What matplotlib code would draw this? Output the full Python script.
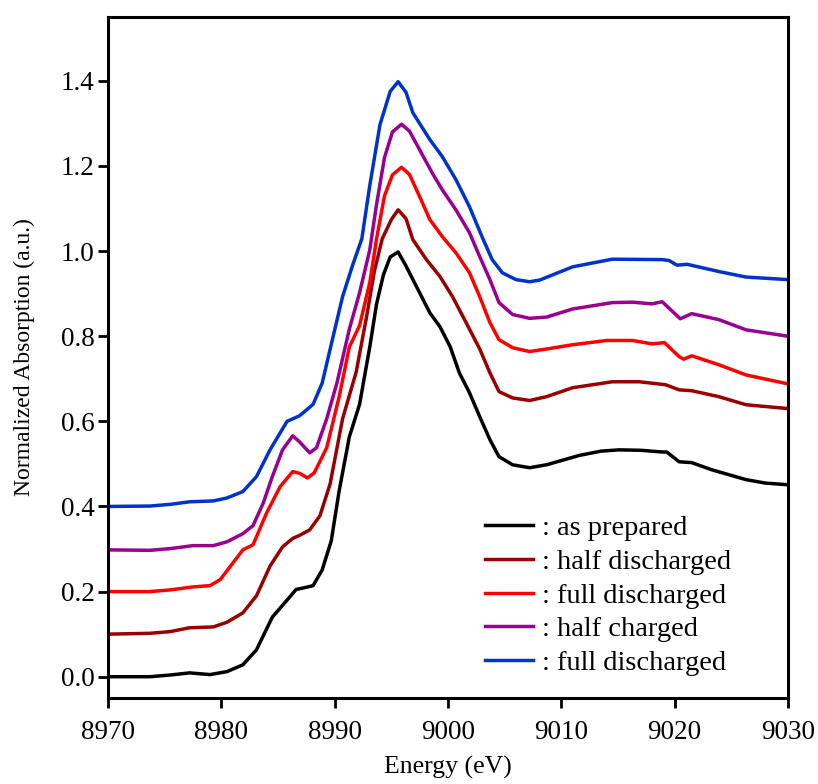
"""
plot.py
XANES spectra at several states of charge
"""
import numpy as np
import matplotlib
matplotlib.use("Agg")
import matplotlib.pyplot as plt

e_prepared = [8970.0, 8973.7, 8975.5, 8977.2, 8979.0, 8980.5, 8981.9, 8983.1, 8984.5,
              8985.8, 8986.6, 8987.3, 8988.1, 8988.9, 8989.7, 8990.4, 8991.3, 8992.2,
              8993.1, 8993.7, 8994.3, 8994.9, 8995.6, 8996.3, 8997.5, 8998.4, 8999.3,
              9000.2, 9001.0, 9001.9, 9002.8, 9003.7, 9004.5, 9005.7, 9007.2, 9008.7,
              9011.6, 9013.5, 9015.1, 9017.0, 9018.9, 9019.3, 9020.4, 9021.5, 9023.3,
              9026.3, 9028.0, 9030.0]
a_prepared = [0.000, 0.000, 0.004, 0.009, 0.005, 0.012, 0.028, 0.063, 0.140,
              0.180, 0.205, 0.209, 0.214, 0.251, 0.319, 0.437, 0.564, 0.640,
              0.775, 0.876, 0.944, 0.986, 0.998, 0.965, 0.902, 0.855, 0.822,
              0.775, 0.714, 0.667, 0.611, 0.557, 0.517, 0.498, 0.491, 0.498,
              0.520, 0.530, 0.533, 0.532, 0.528, 0.528, 0.505, 0.503, 0.486,
              0.463, 0.455, 0.451]

e_half_dis = [8970.0, 8973.7, 8975.5, 8977.2, 8979.3, 8980.5, 8981.9, 8983.1, 8984.3,
              8985.4, 8986.3, 8986.9, 8987.8, 8988.7, 8989.6, 8990.7, 8991.9, 8992.8,
              8993.5, 8994.2, 8995.0, 8995.6, 8996.3, 8996.9, 8998.1, 8999.3, 9000.4,
              9001.6, 9002.8, 9003.7, 9004.5, 9005.7, 9007.2, 9008.7, 9011.0, 9014.5,
              9016.9, 9019.2, 9020.4, 9021.5, 9023.9, 9026.3, 9030.0]
a_half_dis = [0.100, 0.102, 0.106, 0.115, 0.117, 0.128, 0.150, 0.190, 0.260,
              0.305, 0.325, 0.332, 0.345, 0.378, 0.453, 0.606, 0.716, 0.843,
              0.952, 1.029, 1.074, 1.097, 1.076, 1.027, 0.980, 0.940, 0.893,
              0.832, 0.770, 0.714, 0.670, 0.655, 0.649, 0.658, 0.679, 0.693,
              0.693, 0.686, 0.674, 0.672, 0.658, 0.639, 0.630]

e_full_dis = [8970.0, 8973.7, 8975.5, 8977.5, 8979.0, 8979.9, 8981.9, 8982.8, 8984.0,
              8985.2, 8986.3, 8986.9, 8987.6, 8988.2, 8989.3, 8990.4, 8991.3, 8992.2,
              8993.1, 8993.7, 8994.4, 8995.1, 8995.9, 8996.6, 8997.5, 8998.4, 8999.5,
              9000.7, 9001.9, 9002.8, 9003.7, 9004.5, 9005.7, 9007.2, 9008.7, 9011.0,
              9014.0, 9016.3, 9018.0, 9019.1, 9020.4, 9020.8, 9021.5, 9023.9, 9026.3,
              9030.0]
a_full_dis = [0.200, 0.200, 0.204, 0.211, 0.214, 0.228, 0.298, 0.310, 0.385,
              0.447, 0.482, 0.478, 0.467, 0.479, 0.538, 0.658, 0.775, 0.825,
              0.926, 1.029, 1.130, 1.179, 1.197, 1.180, 1.128, 1.074, 1.034,
              0.996, 0.949, 0.893, 0.832, 0.792, 0.773, 0.764, 0.770, 0.780,
              0.790, 0.790, 0.782, 0.785, 0.752, 0.746, 0.754, 0.733, 0.709,
              0.688]

e_half_chg = [8970.0, 8973.7, 8975.5, 8977.5, 8979.3, 8980.5, 8981.9, 8982.8, 8983.7,
              8984.5, 8985.4, 8986.3, 8986.9, 8987.8, 8988.4, 8989.3, 8990.2, 8991.3,
              8992.2, 8993.1, 8993.7, 8994.4, 8995.1, 8995.9, 8996.6, 8997.5, 8998.6,
              8999.5, 9000.7, 9001.9, 9002.8, 9003.7, 9004.5, 9005.7, 9007.2, 9008.7,
              9011.0, 9014.5, 9016.3, 9018.0, 9018.9, 9020.5, 9021.5, 9023.9, 9026.3,
              9030.0]
a_half_chg = [0.298, 0.297, 0.301, 0.308, 0.308, 0.317, 0.336, 0.355, 0.408,
              0.470, 0.533, 0.566, 0.552, 0.526, 0.538, 0.606, 0.690, 0.817,
              0.902, 1.003, 1.110, 1.220, 1.280, 1.298, 1.282, 1.238, 1.184,
              1.144, 1.097, 1.043, 0.987, 0.933, 0.879, 0.851, 0.842, 0.845,
              0.864, 0.879, 0.880, 0.876, 0.881, 0.841, 0.853, 0.839, 0.815,
              0.800]

e_full_chg = [8970.0, 8973.7, 8975.5, 8977.2, 8979.3, 8980.5, 8981.9, 8983.1, 8984.3,
              8985.8, 8986.9, 8988.1, 8988.9, 8989.8, 8990.7, 8991.6, 8992.4, 8993.1,
              8994.0, 8994.9, 8995.6, 8996.3, 8996.9, 8998.4, 8999.5, 9000.7, 9001.9,
              9003.0, 9003.9, 9004.8, 9006.0, 9007.2, 9008.1, 9011.0, 9014.5, 9018.9,
              9019.5, 9020.2, 9021.1, 9023.9, 9026.3, 9030.0]
a_full_chg = [0.400, 0.401, 0.405, 0.411, 0.413, 0.420, 0.435, 0.470, 0.533,
              0.600, 0.613, 0.640, 0.690, 0.792, 0.893, 0.968, 1.029, 1.154,
              1.297, 1.375, 1.398, 1.373, 1.325, 1.262, 1.222, 1.168, 1.104,
              1.034, 0.980, 0.949, 0.933, 0.928, 0.932, 0.963, 0.981, 0.980,
              0.978, 0.967, 0.969, 0.952, 0.939, 0.933]

labels = [": as prepared", ": half discharged", ": full discharged",
          ": half charged", ": full discharged"]
colors = ["#000000", "#990000", "#ff0000", "#99008f", "#0033cc"]

plt.rcParams['font.family'] = ['Liberation Serif', 'DejaVu Serif']

fig = plt.figure(figsize=(8.18, 7.84), dpi=100)
ax = fig.add_axes([0.132, 0.1097, 0.8313, 0.8686])

series = [(e_prepared, a_prepared), (e_half_dis, a_half_dis), (e_full_dis, a_full_dis),
          (e_half_chg, a_half_chg), (e_full_chg, a_full_chg)]
for (x, y), c, lab in zip(series, colors, labels):
    ax.plot(x, y, color=c, lw=2.5, label=lab, solid_joinstyle='round')

ax.set_xlim(8970, 9030)
ax.set_ylim(-0.05, 1.55)
ax.set_xticks(np.arange(8970, 9031, 10))
ax.set_yticks(np.arange(0, 1.41, 0.2))
ax.yaxis.set_major_formatter(matplotlib.ticker.FormatStrFormatter('%.1f'))
ax.tick_params(direction='out', length=7.5, width=2, labelsize=19.5)
ax.tick_params(axis='x', pad=8)
ax.tick_params(axis='y', pad=2)
for s in ax.spines.values():
    s.set_linewidth(2.2)

ax.set_xlabel("Energy (eV)", fontsize=18.5, labelpad=8)
ax.set_ylabel("Normalized Absorption (a.u.)", fontsize=17, labelpad=19)

ax.legend(loc='upper left', bbox_to_anchor=(0.554, 0.268), frameon=False,
          fontsize=20.5, handlelength=1.7, handletextpad=0.3, labelspacing=0.27,
          borderaxespad=0, borderpad=0)

fig.savefig("out.png", dpi=100)
